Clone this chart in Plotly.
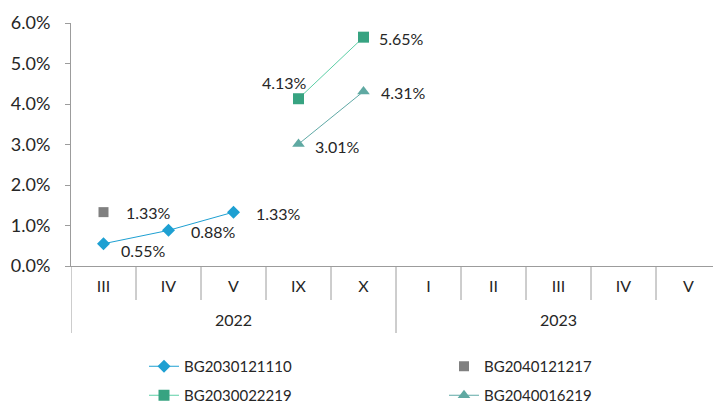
import plotly.graph_objects as go

YEARS = ["2022"] * 5 + ["2023"] * 5
MONTHS = ["III", "IV", "V", "IX", "X", "I", "II", "III", "IV", "V"]
YEAR_LABELS = ["2022", "2023"]

S1_NAME = "BG2030121110"
S1_POINTS = [("2022", "III"), ("2022", "IV"), ("2022", "V")]
S1_VALUES = [0.0055, 0.0088, 0.0133]

S2_NAME = "BG2040121217"
S2_POINTS = [("2022", "III")]
S2_VALUES = [0.0133]

S3_NAME = "BG2030022219"
S3_POINTS = [("2022", "IX"), ("2022", "X")]
S3_VALUES = [0.0413, 0.0565]

S4_NAME = "BG2040016219"
S4_POINTS = [("2022", "IX"), ("2022", "X")]
S4_VALUES = [0.0301, 0.0431]

FONT = "Lato, 'Open Sans', sans-serif"
TEXT_COLOR = "#262626"
AXIS_COLOR = "#9c9c9c"

# the page body has an 8px margin, so the figure is drawn 8px smaller
W, H = 713, 398
M_L, M_T, M_B = 63, 15, 140
PLOT_H = H - M_T - M_B
PLOT_W = W - M_L

# position of each (year, month) pair on the category axis
POS = {(y, m): i for i, (y, m) in enumerate(zip(YEARS, MONTHS))}

fig = go.Figure()


def add_series(name, points, values, marker, line=None, label_offsets=(), legend="legend"):
    x = [POS[p] for p in points]
    fig.add_trace(go.Scatter(
        x=x, y=values, name=name, legend=legend,
        mode="lines+markers" if line else "markers",
        line=line or dict(width=0),
        marker=marker,
        hoverinfo="skip",
    ))
    # data labels: (dx, dy, anchor) in pixels from the marker
    for xi, v, (dx, dy, anchor) in zip(x, values, label_offsets):
        fig.add_annotation(
            x=xi, y=v, xref="x", yref="y", text=f"{v:.2%}", showarrow=False,
            xanchor=anchor, yanchor="middle", xshift=dx, yshift=-dy,
            font=dict(size=16, color=TEXT_COLOR),
        )


add_series(S1_NAME, S1_POINTS, S1_VALUES,
           marker=dict(symbol="diamond", size=10, color="#1ea0d2"),
           line=dict(color="#1ea0d2", width=1),
           label_offsets=[(15, 7, "left"), (20, 1, "left"), (20, 1, "left")])
add_series(S2_NAME, S2_POINTS, S2_VALUES,
           marker=dict(symbol="square", size=10, color="#808080"),
           label_offsets=[(20, 0, "left")])
add_series(S3_NAME, S3_POINTS, S3_VALUES,
           marker=dict(symbol="square", size=11, color="#37a381"),
           line=dict(color="#5ccfa6", width=1),
           label_offsets=[(10, -16, "right"), (13, 1, "left")],
           legend="legend2")
add_series(S4_NAME, S4_POINTS, S4_VALUES,
           marker=dict(symbol="triangle-up", size=11, color="#5fa9a2"),
           line=dict(color="#5fa9a6", width=1),
           label_offsets=[(14, 2, "left"), (15, 1, "left")],
           legend="legend2")

# separators under the axis: short ones between months, long ones between years
for i in range(1, len(MONTHS)):
    long_line = YEARS[i] != YEARS[i - 1]
    fig.add_shape(type="line", xref="x", yref="paper",
                  x0=i - 0.5, x1=i - 0.5, y0=0,
                  y1=-(67 if long_line else 34) / PLOT_H,
                  line=dict(color=AXIS_COLOR, width=1))
fig.add_shape(type="line", xref="x", yref="paper", x0=-0.5, x1=-0.5,
              y0=0, y1=-67 / PLOT_H, line=dict(color=AXIS_COLOR, width=1))

for year in YEAR_LABELS:
    idx = [i for i, y in enumerate(YEARS) if y == year]
    fig.add_annotation(x=(idx[0] + idx[-1]) / 2, xref="x", y=-53 / PLOT_H, yref="paper",
                       text=year, showarrow=False, yanchor="middle",
                       font=dict(size=16, color=TEXT_COLOR))

legend_style = dict(
    orientation="h",
    x=(136 - M_L) / PLOT_W,
    xanchor="left",
    yanchor="top",
    entrywidth=255,
    font=dict(size=15, color=TEXT_COLOR),
    bgcolor="rgba(0,0,0,0)",
)

fig.update_layout(
    width=W,
    height=H,
    margin=dict(l=M_L, r=0, t=M_T, b=M_B, autoexpand=False),
    paper_bgcolor="white",
    plot_bgcolor="white",
    font=dict(family=FONT, size=16, color=TEXT_COLOR),
    showlegend=True,
    legend=dict(legend_style, y=-84 / PLOT_H),
    legend2=dict(legend_style, y=-113 / PLOT_H),
)
fig.update_xaxes(
    range=[-0.5, len(MONTHS) - 0.5],
    tickmode="array",
    tickvals=list(range(len(MONTHS))),
    ticktext=MONTHS,
    showline=True,
    linecolor=AXIS_COLOR,
    showgrid=False,
    zeroline=False,
    ticks="",
    ticklabelstandoff=6,
    tickfont=dict(size=16, color=TEXT_COLOR),
)
fig.update_yaxes(
    range=[0, 0.06],
    dtick=0.01,
    tickformat=".1%",
    showgrid=False,
    zeroline=False,
    showline=True,
    linecolor=AXIS_COLOR,
    ticks="outside",
    ticklen=5,
    tickcolor=AXIS_COLOR,
    ticklabelstandoff=11,
    tickfont=dict(size=18, color=TEXT_COLOR),
)

fig.write_html("out.html")
